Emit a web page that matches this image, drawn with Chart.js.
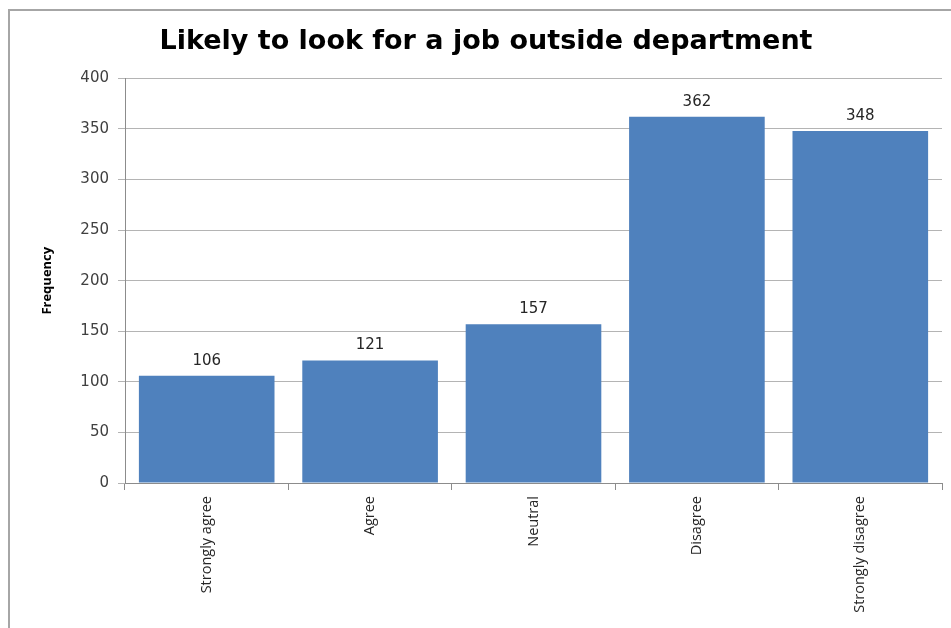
<!DOCTYPE html>
<html>
<head>
<meta charset="utf-8">
<script src="https://cdn.jsdelivr.net/npm/chart.js@4"></script>
<style>
  html, body { margin: 0; padding: 0; background: #fff; overflow: hidden; }
  #frame { position: absolute; left: 8px; top: 9px; width: 960px; height: 640px; border: 2px solid #a6a6a6; }
  #chart { position: absolute; left: 0; top: 0; }
</style>
</head>
<body>
<div id="frame"></div>
<canvas id="chart" width="951" height="628"></canvas>
<script>
const categories = ['Strongly agree', 'Agree', 'Neutral', 'Disagree', 'Strongly disagree'];
const frequencies = [106, 121, 157, 362, 348];
const yTicks = [0, 50, 100, 150, 200, 250, 300, 350, 400];

// draws the value above each bar
const valueLabels = {
    id: 'valueLabels',
    afterDatasetsDraw(chart) {
        const ctx = chart.ctx;
        const meta = chart.getDatasetMeta(0);
        ctx.save();
        ctx.font = '15px "DejaVu Sans"';
        ctx.fillStyle = '#262626';
        ctx.textAlign = 'center';
        ctx.textBaseline = 'middle';
        meta.data.forEach((bar, i) => {
            ctx.fillText(String(frequencies[i]), bar.x, bar.y - 15);
        });
        ctx.restore();
    }
};

const ctx = document.getElementById('chart').getContext('2d');
const chart = new Chart(ctx, {
    type: 'bar',
    data: {
        labels: categories,
        datasets: [{
            label: 'Frequency',
            data: frequencies,
            backgroundColor: '#4f81bd',
            borderWidth: 0,
            categoryPercentage: 1,
            barPercentage: 0.83
        }]
    },
    options: {
        responsive: false,
        animation: false,
        layout: { padding: { left: 30, right: 9, top: 0, bottom: 0 } },
        scales: {
            x: {
                offset: true,
                grid: {
                    offset: true,
                    drawOnChartArea: false,
                    drawTicks: true,
                    tickLength: 7,
                    color: '#8c8c8c'
                },
                border: { color: '#8c8c8c' },
                ticks: {
                    minRotation: 90,
                    maxRotation: 90,
                    padding: 6,
                    color: '#262626',
                    font: { family: '"Open Sans"', size: 14.5 }
                },
                afterFit(scale) { scale.height = 145; }
            },
            y: {
                min: 0,
                max: 400,
                afterBuildTicks(scale) { scale.ticks = yTicks.map(v => ({ value: v })); },
                grid: { color: '#b4b4b4', tickLength: 7 },
                border: { color: '#8c8c8c' },
                ticks: {
                    padding: 9,
                    color: '#404040',
                    font: { family: '"DejaVu Sans"', size: 15 }
                },
                title: {
                    display: true,
                    text: 'Frequency',
                    color: '#000',
                    padding: { top: 9, bottom: 0 },
                    font: { family: '"Open Sans"', size: 13, weight: 'bold' }
                },
                afterFit(scale) { scale.width = 95; }
            }
        },
        plugins: {
            legend: { display: false },
            tooltip: { enabled: false },
            title: {
                display: true,
                text: 'Likely to look for a job outside department',
                color: '#000',
                padding: { top: 26, bottom: 20 },
                font: { family: '"DejaVu Sans"', size: 27, weight: 'bold' }
            }
        }
    },
    plugins: [valueLabels]
});
</script>
</body>
</html>
